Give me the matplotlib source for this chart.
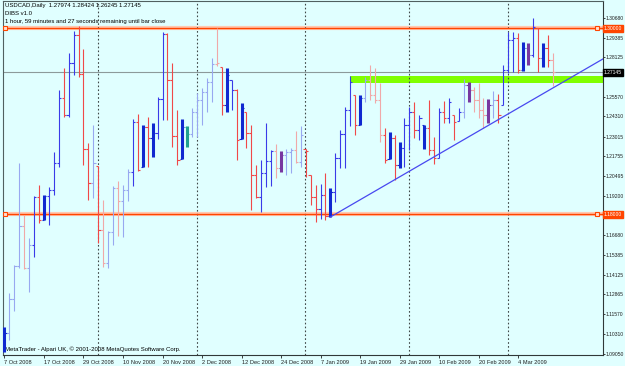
import matplotlib
matplotlib.use("Agg")
import matplotlib.pyplot as plt
from matplotlib.transforms import blended_transform_factory

# USDCAD daily bars (bar 0 = 7 Oct 2008)
highs = [1.1076, 1.1295, 1.1475, 1.2131, 1.1797, 1.1649, 1.1919, 1.1990, 1.1925, 1.1977,
         1.2202, 1.2601, 1.2743, 1.2840, 1.2981, 1.3013, 1.2865, 1.2260, 1.2376, 1.2112,
         1.1893, 1.1694, 1.1983, 1.2016, 1.1990, 1.2093, 1.2415, 1.2447, 1.2376, 1.2428,
         1.2389, 1.2556, 1.2975, 1.2968, 1.2775, 1.2473, 1.2415, 1.2370, 1.2485, 1.2582,
         1.2614, 1.2679, 1.2807, 1.3000, 1.2749, 1.2743, 1.2666, 1.2608, 1.2518, 1.2460,
         1.2376, 1.2119, 1.2151, 1.2389, 1.2215, 1.2254, 1.2209, 1.2222, 1.2228, 1.2337,
         1.2370, 1.2222, 1.2054, 1.1990, 1.1996, 1.2067, 1.1970, 1.2196, 1.2344, 1.2492,
         1.2691, 1.2569, 1.2569, 1.2685, 1.2762, 1.2743, 1.2646, 1.2357, 1.2331, 1.2312,
         1.2267, 1.2421, 1.2492, 1.2524, 1.2440, 1.2376, 1.2537, 1.2299, 1.2485, 1.2531,
         1.2550, 1.2440, 1.2485, 1.2672, 1.2653, 1.2621, 1.2646, 1.2550, 1.2543, 1.2595,
         1.2576, 1.2762, 1.2975, 1.2975, 1.2968, 1.2910, 1.2904, 1.3065, 1.3000, 1.2904,
         1.2955, 1.2842]
lows = [1.0915, 1.0992, 1.1179, 1.1456, 1.1449, 1.1301, 1.1526, 1.1745, 1.1765, 1.1732,
        1.1925, 1.2106, 1.2428, 1.2428, 1.2698, 1.2685, 1.2119, 1.1893, 1.1906, 1.1616,
        1.1462, 1.1456, 1.1604, 1.1662, 1.1655, 1.1887, 1.1983, 1.2080, 1.2106, 1.2106,
        1.2170, 1.2286, 1.2408, 1.2408, 1.2234, 1.2119, 1.2157, 1.2234, 1.2299, 1.2299,
        1.2376, 1.2460, 1.2524, 1.2756, 1.2440, 1.2460, 1.2473, 1.2151, 1.2286, 1.2228,
        1.1829, 1.1906, 1.1816, 1.1977, 1.1983, 1.2035, 1.2074, 1.2054, 1.2067, 1.2131,
        1.2106, 1.2041, 1.1861, 1.1752, 1.1771, 1.1765, 1.1784, 1.1880, 1.2099, 1.2099,
        1.2370, 1.2312, 1.2376, 1.2524, 1.2537, 1.2518, 1.2267, 1.2131, 1.2157, 1.2022,
        1.2099, 1.2106, 1.2215, 1.2292, 1.2280, 1.2222, 1.2183, 1.2125, 1.2164, 1.2389,
        1.2389, 1.2280, 1.2402, 1.2421, 1.2524, 1.2460, 1.2421, 1.2357, 1.2389, 1.2421,
        1.2389, 1.2505, 1.2711, 1.2717, 1.2711, 1.2724, 1.2762, 1.2814, 1.2717, 1.2749,
        1.2749, 1.2625]
closes = [1.1037, 1.1256, 1.1468, 1.1726, 1.1456, 1.1604, 1.1913, 1.1765, 1.1919, 1.1958,
          1.2131, 1.2550, 1.2440, 1.2775, 1.2955, 1.2704, 1.2222, 1.2003, 1.2131, 1.1700,
          1.1488, 1.1687, 1.1970, 1.1887, 1.1958, 1.2074, 1.2395, 1.2086, 1.2363, 1.2292,
          1.2325, 1.2543, 1.2962, 1.2666, 1.2305, 1.2151, 1.2363, 1.2318, 1.2460, 1.2537,
          1.2588, 1.2653, 1.2769, 1.2775, 1.2505, 1.2698, 1.2601, 1.2280, 1.2485, 1.2325,
          1.2054, 1.1913, 1.2067, 1.2144, 1.2209, 1.2099, 1.2183, 1.2202, 1.2215, 1.2138,
          1.2312, 1.2209, 1.1913, 1.1835, 1.1925, 1.1790, 1.1945, 1.2164, 1.2318, 1.2473,
          1.2653, 1.2376, 1.2550, 1.2666, 1.2569, 1.2537, 1.2312, 1.2151, 1.2292, 1.2119,
          1.2228, 1.2376, 1.2460, 1.2344, 1.2421, 1.2357, 1.2215, 1.2164, 1.2460, 1.2421,
          1.2524, 1.2395, 1.2460, 1.2634, 1.2601, 1.2537, 1.2473, 1.2440, 1.2505, 1.2537,
          1.2440, 1.2730, 1.2923, 1.2936, 1.2730, 1.2872, 1.2827, 1.3007, 1.2807, 1.2872,
          1.2797, 1.27145]
first_open = 1.0941
# DIBS colouring: b blue, r red, lb pale blue, lr pale red, db/p/g thick inside bars
styles = ['db', 'lb', 'lb', 'lb', 'lr', 'lb', 'b', 'r', 'db', 'b',
          'b', 'b', 'r', 'b', 'b', 'r', 'r', 'r', 'lb', 'r',
          'lr', 'lb', 'lb', 'lr', 'lb', 'lb', 'b', 'r', 'db', 'r',
          'db', 'b', 'b', 'r', 'r', 'r', 'db', 'g', 'lb', 'lb',
          'lb', 'lb', 'lb', 'lr', 'r', 'db', 'b', 'r', 'db', 'r',
          'r', 'r', 'b', 'b', 'b', 'lr', 'p', 'lb', 'lb', 'lr',
          'lb', 'r', 'r', 'r', 'b', 'r', 'db', 'b', 'b', 'b',
          'b', 'r', 'db', 'lb', 'lr', 'lr', 'lr', 'r', 'db', 'r',
          'db', 'b', 'b', 'r', 'b', 'db', 'r', 'r', 'b', 'r',
          'b', 'r', 'b', 'lb', 'p', 'lr', 'lr', 'lr', 'p', 'lb',
          'r', 'b', 'b', 'b', 'r', 'db', 'p', 'b', 'r', 'db',
          'r', 'lr']

date_ticks = [0, 8, 16, 24, 32, 40, 48, 56, 64, 72, 80, 88, 96, 104]
date_labels = ['7 Oct 2008', '17 Oct 2008', '29 Oct 2008', '10 Nov 2008', '20 Nov 2008',
               '2 Dec 2008', '12 Dec 2008', '24 Dec 2008', '7 Jan 2009', '19 Jan 2009',
               '29 Jan 2009', '10 Feb 2009', '20 Feb 2009', '4 Mar 2009']
month_starts = [19, 39, 61, 82, 102]
price_ticks = [1.30680, 1.29385, 1.28125, 1.25570, 1.24310, 1.23015, 1.21755,
               1.20495, 1.19200, 1.16680, 1.15385, 1.14125, 1.12865, 1.11570,
               1.10310, 1.09050]
levels = [1.30000, 1.18000]
last_price = 1.27145
zone = (70, 1.2646, 1.2691)           # start bar, bottom, top
trend_x = [66, 121.5]
trend_p = [1.1784, 1.2807]

colors = {'b': '#3a3ae8', 'r': '#f04848', 'lb': '#98a8f0', 'lr': '#f0a8a8',
          'db': '#1028d0', 'p': '#7838a0', 'g': '#20a090'}
thick = {'db', 'p', 'g'}
bg = '#e0ffff'
fnt = 'Liberation Sans'

fig = plt.figure(figsize=(6.25, 3.66), dpi=100, facecolor=bg)
ax = fig.add_axes([3 / 625, 11 / 366, 600 / 625, 354 / 366], facecolor=bg)
ax.set_xlim(-0.3, 121.2)
ax.set_ylim(1.08956, 1.31743)

# green zone and reference lines
ax.fill_between([zone[0], 121.2], zone[1], zone[2], color='#80ff00', lw=0, zorder=1)
ax.axhline(last_price, color='#8c9a9a', lw=0.8, zorder=1)
for lv in levels:
    ax.axhline(lv, color='#ffc8b0', lw=3, zorder=1)
    ax.axhline(lv, color='#ff4500', lw=1, zorder=2)
    ax.plot([0.2, 120.0], [lv, lv], ls='none', marker='s', ms=3.5, mfc='#ffe0d0',
            mec='#ff4500', mew=0.8, zorder=3)
for m in month_starts:
    ax.axvline(m - 0.1, color='#404848', lw=0.8, ls=(0, (1.5, 2)), zorder=1)

# OHLC bars
opens = [first_open] + closes[:-1]
for i in range(len(closes)):
    c = colors[styles[i]]
    w = 2.2 if styles[i] in thick else 0.8
    o = min(max(opens[i], lows[i]), highs[i])
    ax.vlines(i, lows[i], highs[i], color=c, lw=w, zorder=4)
    ax.hlines(o, i - 0.45, i, color=c, lw=0.8, zorder=4)
    ax.hlines(closes[i], i, i + 0.45, color=c, lw=0.8, zorder=4)

ax.plot(trend_x, trend_p, color='#4848f0', lw=0.9, zorder=5)

# axes styling
for s in ['top', 'left']:
    ax.spines[s].set_color('#506060')
for s in ['bottom', 'right']:
    ax.spines[s].set_color('#303838')
ax.yaxis.tick_right()
ax.set_yticks(price_ticks)
ax.set_yticklabels([f'{p:.5f}' for p in price_ticks], fontsize=3.6, family=fnt)
ax.set_xticks(date_ticks)
ax.set_xticklabels(date_labels, fontsize=4.1, family=fnt, ha='left')
ax.tick_params(axis='y', length=1.5, pad=0.6, width=0.6, colors='#202020')
ax.tick_params(axis='x', length=2.5, pad=0.8, width=0.6, colors='#202020')

tr = blended_transform_factory(ax.transAxes, ax.transData)
for lv in levels:
    ax.text(1.0015, lv, f'{lv:.5f}', transform=tr, fontsize=3.6, family=fnt, color='white',
            va='center', ha='left', zorder=6,
            bbox=dict(boxstyle='square,pad=0.2', fc='#ff4500', ec='#ff4500'))
ax.text(1.0015, last_price, f'{last_price:.5f}', transform=tr, fontsize=3.6, family=fnt,
        color='white', va='center', ha='left', zorder=6,
        bbox=dict(boxstyle='square,pad=0.2', fc='black', ec='black'))

# header and footer texts
ax.text(0.003, 0.995, 'USDCAD,Daily  1.27974 1.28424 1.26245 1.27145', transform=ax.transAxes,
        fontsize=4.3, family=fnt, va='top', ha='left', color='black')
ax.text(0.003, 0.972, 'DIBS v1.0', transform=ax.transAxes,
        fontsize=4.3, family=fnt, va='top', ha='left', color='black')
ax.text(0.003, 0.949, '1 hour, 59 minutes and 27 seconds remaining until bar close',
        transform=ax.transAxes, fontsize=4.3, family=fnt, va='top', ha='left', color='black')
ax.text(0.003, 0.008, 'MetaTrader - Alpari UK, \u00a9 2001-2008 MetaQuotes Software Corp.',
        transform=ax.transAxes, fontsize=4.3, family=fnt, va='bottom', ha='left', color='black')

fig.savefig('out.png', dpi=100, facecolor=bg)
